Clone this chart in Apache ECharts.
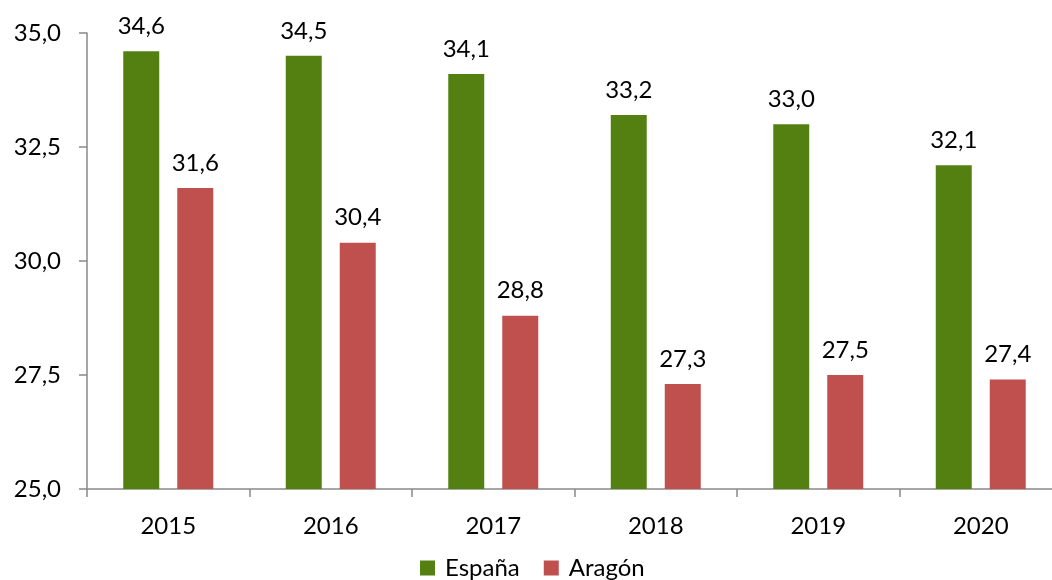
<!DOCTYPE html>
<html>
<head>
<meta charset="utf-8">
<script src="https://cdn.jsdelivr.net/npm/echarts@6/dist/echarts.min.js"></script>
<style>
  html, body { margin: 0; padding: 0; background: #fff; }
  #chart { width: 1052px; height: 580px; }
</style>
</head>
<body>
<div id="chart"></div>
<script>
const years = ['2015', '2016', '2017', '2018', '2019', '2020'];
const espana = [34.6, 34.5, 34.1, 33.2, 33.0, 32.1];
const aragon = [31.6, 30.4, 28.8, 27.3, 27.5, 27.4];

const fontFamily = 'Lato, "Open Sans", sans-serif';
const fmt = v => v.toFixed(1).replace('.', ',');

const chart = echarts.init(document.getElementById('chart'));

const barLabel = {
  show: true,
  position: 'top',
  distance: 13,
  color: '#000',
  fontSize: 24,
  fontFamily: fontFamily,
  formatter: p => fmt(p.value)
};

chart.setOption({
  animation: false,
  textStyle: { fontFamily: fontFamily },
  // plot runs past the right edge in the source image
  grid: { left: 87, width: 975, top: 33, height: 456, outerBoundsMode: 'none', containLabel: false },
  legend: {
    top: 551,
    left: 415,
    itemWidth: 15,
    itemHeight: 15,
    itemGap: 24,
    icon: 'rect',
    textStyle: { fontSize: 24, color: '#000', fontFamily: fontFamily, padding: [0, 0, 0, 5] },
    data: ['España', 'Aragón']
  },
  xAxis: {
    type: 'category',
    data: years,
    axisLine: { lineStyle: { color: '#898989', width: 1.5 } },
    axisTick: { show: true, length: 8, lineStyle: { color: '#898989', width: 1.5 } },
    axisLabel: { color: '#000', fontSize: 24, margin: 25, fontFamily: fontFamily }
  },
  yAxis: {
    type: 'value',
    min: 25,
    max: 35,
    interval: 2.5,
    splitLine: { show: false },
    axisLine: { show: true, lineStyle: { color: '#898989', width: 1.5 } },
    axisTick: { show: true, length: 8, lineStyle: { color: '#898989', width: 1.5 } },
    axisLabel: { color: '#000', fontSize: 24, margin: 26, fontFamily: fontFamily, formatter: v => fmt(v) }
  },
  series: [
    {
      name: 'España',
      type: 'bar',
      data: espana,
      barWidth: 36,
      barGap: '50%',
      itemStyle: { color: '#548012' },
      label: barLabel
    },
    {
      name: 'Aragón',
      type: 'bar',
      data: aragon,
      barWidth: 36,
      itemStyle: { color: '#C0504D' },
      label: barLabel
    }
  ]
});
</script>
</body>
</html>
